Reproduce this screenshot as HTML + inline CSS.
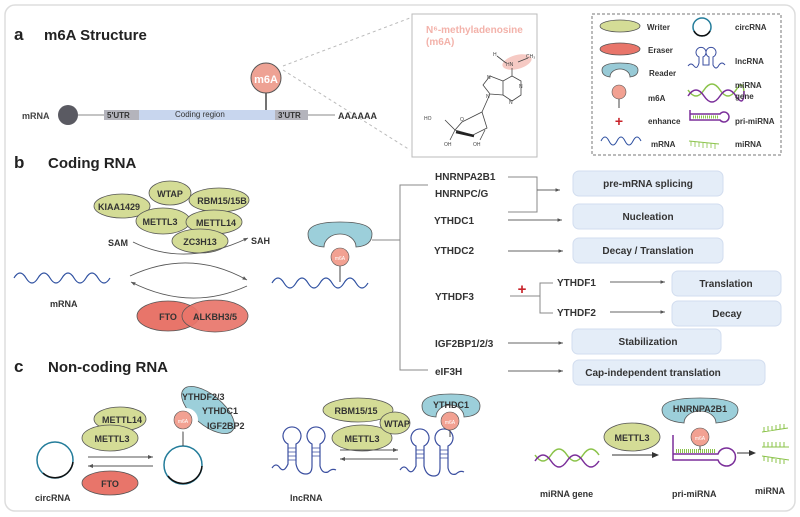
<!DOCTYPE html>
<html><head><meta charset="utf-8"><style>
body{margin:0;background:#fff}
svg{display:block;font-family:"Liberation Sans",sans-serif}
.b{font-weight:bold}
</style></head><body>
<svg width="800" height="517" viewBox="0 0 800 517" xmlns="http://www.w3.org/2000/svg">
<defs>
<marker id="ar" markerWidth="6" markerHeight="6" refX="5" refY="3" orient="auto"><path d="M0,1 L5,3 L0,5z" fill="#555"/></marker>
<marker id="ab" markerWidth="8" markerHeight="8" refX="6" refY="4" orient="auto"><path d="M0,1 L7,4 L0,7z" fill="#333"/></marker>
</defs>
<rect x="5" y="5" width="790" height="506" rx="10" fill="#fff" stroke="#ddd" stroke-width="1.5"/>

<!-- a -->
<text x="14" y="40" font-size="17" class="b" fill="#222">a</text>
<text x="44" y="40" font-size="15" class="b" fill="#222">m6A Structure</text>
<text x="22" y="119" font-size="9" class="b" fill="#444">mRNA</text>
<line x1="78" y1="115" x2="335" y2="115" stroke="#888" stroke-width="1"/>
<circle cx="68" cy="115" r="10" fill="#5a5a62"/>
<rect x="104" y="110" width="35" height="10" fill="#b4b4bc"/>
<rect x="139" y="110" width="136" height="10" fill="#c8d6ee"/>
<rect x="275" y="110" width="33" height="10" fill="#b4b4bc"/>
<text x="107" y="118" font-size="8" class="b" fill="#333">5'UTR</text>
<text x="175" y="117" font-size="8" fill="#333">Coding region</text>
<text x="278" y="118" font-size="8" class="b" fill="#333">3'UTR</text>
<text x="338" y="119" font-size="9" class="b" fill="#333">AAAAAA</text>
<line x1="266" y1="93" x2="266" y2="110" stroke="#444" stroke-width="1.5"/>
<circle cx="266" cy="78" r="15" fill="#eea294" stroke="#555" stroke-width="1"/>
<text x="266" y="83" font-size="11" class="b" fill="#fff" text-anchor="middle">m6A</text>
<line x1="283" y1="66" x2="410" y2="18" stroke="#bbb" stroke-dasharray="3,3"/>
<line x1="283" y1="70" x2="410" y2="150" stroke="#bbb" stroke-dasharray="3,3"/>
<rect x="412" y="14" width="125" height="143" fill="#fff" stroke="#bbb"/>
<text x="426" y="33" font-size="10" class="b" fill="#f3b2aa">N⁶-methyladenosine</text>
<text x="426" y="45" font-size="10" class="b" fill="#f3b2aa">(m6A)</text>
<ellipse cx="517" cy="62" rx="15" ry="7" fill="#f6cac4" transform="rotate(-15 517 62)"/>
<g stroke="#444" stroke-width="0.8" fill="none">
<line x1="497" y1="56" x2="506" y2="63"/><line x1="518" y1="62" x2="528" y2="58"/>
<polyline points="512,68 512,76 521,81 521,95 512,101 503,95 503,81 512,76"/>
<polyline points="503,81 490,76 483,85 490,94 503,95"/>
<line x1="490" y1="94" x2="482" y2="112"/>
<polygon points="462,122 482,112 487,128 473,135 455,130"/>
<line x1="455" y1="130" x2="445" y2="120"/><line x1="455" y1="130" x2="450" y2="140"/><line x1="485" y1="130" x2="480" y2="140"/>
</g>
<line x1="456" y1="132" x2="474" y2="136" stroke="#222" stroke-width="2.5"/>
<g font-size="5" fill="#444"><text x="493" y="56">H</text><text x="506" y="66">HN</text><text x="526" y="58">CH₃</text>
<text x="519" y="88">N</text><text x="509" y="104">N</text><text x="487" y="79">N</text><text x="486" y="98">N</text><text x="460" y="121">O</text>
<text x="424" y="120">HO</text><text x="444" y="146">OH</text><text x="473" y="146">OH</text></g>

<!-- legend -->
<rect x="592" y="14" width="189" height="141" fill="none" stroke="#777" stroke-dasharray="3,2"/>
<g font-size="8" class="b" fill="#333">
<ellipse cx="620" cy="26" rx="20" ry="6" fill="#d4dc96" stroke="#555" stroke-width="0.8"/><text x="647" y="30">Writer</text>
<ellipse cx="620" cy="49" rx="20" ry="6" fill="#e8756a" stroke="#555" stroke-width="0.8"/><text x="648" y="53">Eraser</text>
<path d="M602,70 Q602,63 620,63 Q638,63 638,70 Q638,76 630,77 A10,8 0 0 0 610,77 Q602,76 602,70Z" fill="#98cad6" stroke="#555" stroke-width="0.8"/><text x="649" y="76">Reader</text>
<circle cx="619" cy="92" r="7" fill="#f2a192" stroke="#555" stroke-width="0.6"/><line x1="619" y1="99" x2="619" y2="108" stroke="#444"/><text x="648" y="101">m6A</text>
<text x="619" y="126" font-size="14" fill="#c8232a" text-anchor="middle">+</text><text x="648" y="124">enhance</text>
<path d="M601,141 q4,-8 8,0 t8,0 t8,0 t8,0 t8,0" fill="none" stroke="#2d4fa0" stroke-width="1"/><text x="651" y="147">mRNA</text>
<circle cx="702" cy="27" r="9" fill="none" stroke="#237c9a" stroke-width="1.5"/><path d="M694,31 A9,9 0 0 0 710,31" fill="none" stroke="#111" stroke-width="1.5"/><text x="735" y="30">circRNA</text>
<path d="M688,66 q3,-4 6,0 q3,4 5,-3 l0,-6 a5,5 0 1 1 4,0 l0,8 l6,0 l0,-8 a5,5 0 1 1 4,0 l0,8 q3,6 6,0 q3,-4 6,0" fill="none" stroke="#3b4fa0" stroke-width="1"/><text x="735" y="64">lncRNA</text>
<path d="M688,90 q8,12 16,0 t16,0 t16,0 t8,5" fill="none" stroke="#8bc34a" stroke-width="1.5"/><path d="M688,96 q8,-12 16,0 t16,0 t16,0 t8,-5" fill="none" stroke="#7b2f9a" stroke-width="1.5"/><text x="735" y="88">miRNA</text><text x="735" y="99">gene</text>
<path d="M690,110 l0,10 l30,0 a5,5 0 1 0 0,-6 l-30,0" fill="none" stroke="#7b2f9a" stroke-width="1.5"/><line x1="693" y1="117" x2="718" y2="117" stroke="#8bc34a" stroke-dasharray="1,1" stroke-width="3"/><text x="735" y="124">pri-miRNA</text>
<path d="M689,141 l30,3" stroke="#8bc34a" stroke-width="1"/><path d="M691,141 l0,5 M695,142 l0,5 M699,142 l0,5 M703,143 l0,5 M707,143 l0,5 M711,143 l0,5 M715,144 l0,5" stroke="#8bc34a" stroke-width="0.8"/><text x="735" y="147">miRNA</text>
</g>

<!-- b -->
<text x="14" y="168" font-size="17" class="b" fill="#222">b</text>
<text x="48" y="168" font-size="15" class="b" fill="#222">Coding RNA</text>
<g stroke="#555" stroke-width="0.8" fill="#d4dc96">
<ellipse cx="170" cy="193" rx="21" ry="12"/>
<ellipse cx="122" cy="206" rx="28" ry="12"/>
<ellipse cx="219" cy="200" rx="30" ry="12"/>
<ellipse cx="163" cy="221" rx="27" ry="13"/>
<ellipse cx="214" cy="222" rx="28" ry="12"/>
<ellipse cx="200" cy="241" rx="28" ry="12"/>
</g>
<g font-size="9" class="b" fill="#333" text-anchor="middle">
<text x="170" y="197">WTAP</text><text x="119" y="210">KIAA1429</text><text x="222" y="204">RBM15/15B</text>
<text x="160" y="225">METTL3</text><text x="216" y="226">METTL14</text><text x="200" y="245">ZC3H13</text>
</g>
<text x="108" y="246" font-size="9" class="b" fill="#333">SAM</text>
<text x="251" y="244" font-size="9" class="b" fill="#333">SAH</text>
<g fill="none" stroke="#555" stroke-width="0.9">
<path d="M133,242 Q185,268 248,238" marker-end="url(#ar)"/>
<path d="M130,276 Q190,248 247,280" marker-end="url(#ar)"/>
<path d="M247,286 Q190,312 131,282" marker-end="url(#ar)"/>
</g>
<path d="M14,278 q6,-10 12,0 t12,0 t12,0 t12,0 t12,0 t12,0 t12,0 t12,0" fill="none" stroke="#2d4fa0" stroke-width="1.2"/>
<text x="50" y="307" font-size="9" class="b" fill="#333">mRNA</text>
<g stroke="#555" stroke-width="0.8" fill="#e8756a">
<ellipse cx="168" cy="316" rx="31" ry="15"/><ellipse cx="215" cy="316" rx="33" ry="16" fill-opacity="0.92"/>
</g>
<text x="168" y="320" font-size="9" class="b" fill="#333" text-anchor="middle">FTO</text>
<text x="215" y="320" font-size="9" class="b" fill="#333" text-anchor="middle">ALKBH3/5</text>
<path d="M272,283 q6,-10 12,0 t12,0 t12,0 t12,0 t12,0 t12,0 t12,0 t12,0" fill="none" stroke="#2d4fa0" stroke-width="1.2"/>
<line x1="340" y1="266" x2="340" y2="282" stroke="#444"/>
<path d="M308,234 Q308,222 340,222 Q372,222 372,234 Q372,246 356,247 A16,13 0 0 0 324,247 Q308,246 308,234Z" fill="#9ccfda" stroke="#555" stroke-width="0.8"/>
<circle cx="340" cy="257" r="9" fill="#f2a192" stroke="#555" stroke-width="0.6"/>
<text x="340" y="260" font-size="5" fill="#fff" text-anchor="middle">m6A</text>
<g stroke="#888" stroke-width="1" fill="none">
<polyline points="372,240 400,240"/>
<polyline points="428,185 400,185 400,370 428,370"/>
<polyline points="508,177 537,177 537,212 508,212"/>
</g>
<g stroke="#666" stroke-width="0.9" marker-end="url(#ar)">
<line x1="537" y1="190" x2="560" y2="190"/>
<line x1="508" y1="220" x2="562" y2="220"/>
<line x1="508" y1="251" x2="563" y2="251"/>
<line x1="610" y1="282" x2="665" y2="282"/>
<line x1="610" y1="312" x2="665" y2="312"/>
<line x1="508" y1="343" x2="563" y2="343"/>
<line x1="508" y1="371" x2="563" y2="371"/>
</g>
<polyline points="510,296 540,296" stroke="#888" fill="none"/>
<polyline points="553,283 540,283 540,313 553,313" stroke="#888" fill="none"/>
<text x="522" y="294" font-size="15" class="b" fill="#c8232a" text-anchor="middle">+</text>
<g font-size="10" class="b" fill="#333">
<text x="435" y="180">HNRNPA2B1</text><text x="435" y="197">HNRNPC/G</text><text x="434" y="224">YTHDC1</text>
<text x="434" y="254">YTHDC2</text><text x="435" y="300">YTHDF3</text><text x="557" y="286">YTHDF1</text><text x="557" y="316">YTHDF2</text>
<text x="435" y="347">IGF2BP1/2/3</text><text x="435" y="375">eIF3H</text>
</g>
<g fill="#e4edf8" stroke="#d2ddef">
<rect x="573" y="171" width="150" height="25" rx="6"/>
<rect x="573" y="204" width="150" height="25" rx="6"/>
<rect x="573" y="238" width="150" height="25" rx="6"/>
<rect x="672" y="271" width="109" height="25" rx="6"/>
<rect x="672" y="301" width="109" height="25" rx="6"/>
<rect x="572" y="329" width="149" height="25" rx="6"/>
<rect x="573" y="360" width="192" height="25" rx="6"/>
</g>
<g font-size="10" class="b" fill="#333" text-anchor="middle">
<text x="648" y="187">pre-mRNA splicing</text><text x="648" y="220">Nucleation</text><text x="648" y="254">Decay / Translation</text>
<text x="726" y="287">Translation</text><text x="727" y="317">Decay</text><text x="648" y="345">Stabilization</text><text x="653" y="376">Cap-independent translation</text>
</g>

<!-- c -->
<text x="14" y="372" font-size="17" class="b" fill="#222">c</text>
<text x="48" y="372" font-size="15" class="b" fill="#222">Non-coding RNA</text>
<g stroke="#555" stroke-width="0.8">
<ellipse cx="120" cy="419" rx="26" ry="12" fill="#d4dc96"/>
<ellipse cx="110" cy="438" rx="28" ry="13" fill="#d4dc96"/>
<ellipse cx="110" cy="483" rx="28" ry="12" fill="#e8756a"/>
</g>
<g font-size="9" class="b" fill="#333" text-anchor="middle"><text x="122" y="423">METTL14</text><text x="112" y="442">METTL3</text><text x="110" y="487">FTO</text></g>
<circle cx="55" cy="460" r="18" fill="none" stroke="#237c9a" stroke-width="1.5"/><path d="M43,473 A18,18 0 0 0 73,462" fill="none" stroke="#111" stroke-width="1.5"/>
<text x="35" y="501" font-size="9" class="b" fill="#333">circRNA</text>
<line x1="88" y1="457" x2="153" y2="457" stroke="#555" marker-end="url(#ar)"/>
<line x1="153" y1="466" x2="88" y2="466" stroke="#555" marker-end="url(#ar)"/>
<circle cx="183" cy="465" r="19" fill="none" stroke="#237c9a" stroke-width="1.5"/><path d="M168,476 A19,19 0 0 0 202,466" fill="none" stroke="#111" stroke-width="1.5"/>
<line x1="183" y1="429" x2="183" y2="446" stroke="#444"/>
<ellipse cx="208" cy="410" rx="32" ry="15" transform="rotate(40 208 410)" fill="#9ccfda" stroke="#555" stroke-width="0.8"/>
<circle cx="186" cy="420" r="12" fill="#fff"/>
<circle cx="183" cy="420" r="9" fill="#f2a192" stroke="#555" stroke-width="0.6"/><text x="183" y="423" font-size="5" fill="#fff" text-anchor="middle">m6A</text>
<g font-size="9" class="b" fill="#333"><text x="182" y="400">YTHDF2/3</text><text x="202" y="414">YTHDC1</text><text x="207" y="429">IGF2BP2</text></g>
<g fill="none" stroke="#3b4fa0" stroke-width="1.2">
<path d="M272,468 q4,-6 8,0 q4,5 8,-4 l0,-20 a9,9 0 1 1 8,0 l0,20 q2,10 10,10 q6,0 6,-8 l0,-22 a9,9 0 1 1 8,0 l0,22 q2,8 8,6 q4,-4 8,-2"/>
<path d="M400,470 q4,-6 8,0 q4,5 8,-4 l0,-20 a9,9 0 1 1 8,0 l0,20 q2,10 10,10 q6,0 6,-8 l0,-22 a9,9 0 1 1 8,0 l0,22 q2,8 8,6 q4,-4 8,-2"/>
</g>
<g stroke="#3b4fa0" stroke-width="0.8"><path d="M288,448h8M288,452h8M288,456h8M288,460h8M312,448h8M312,452h8M312,456h8M416,450h8M416,454h8M416,458h8M440,450h8M440,454h8M440,458h8"/></g>
<text x="290" y="501" font-size="9" class="b" fill="#333">lncRNA</text>
<g stroke="#555" stroke-width="0.8" fill="#d4dc96">
<ellipse cx="358" cy="410" rx="35" ry="12"/><ellipse cx="362" cy="438" rx="30" ry="13"/><ellipse cx="395" cy="423" rx="15" ry="11"/>
</g>
<g font-size="9" class="b" fill="#333" text-anchor="middle"><text x="356" y="414">RBM15/15</text><text x="362" y="442">METTL3</text><text x="397" y="427">WTAP</text></g>
<line x1="340" y1="450" x2="398" y2="450" stroke="#555" marker-end="url(#ar)"/>
<line x1="398" y1="459" x2="340" y2="459" stroke="#555" marker-end="url(#ar)"/>
<line x1="450" y1="428" x2="450" y2="437" stroke="#444"/>
<path d="M422,406 Q422,394 451,394 Q480,394 480,406 Q480,416 464,417 A14,12 0 0 0 436,417 Q422,416 422,406Z" fill="#9ccfda" stroke="#555" stroke-width="0.8"/>
<text x="451" y="408" font-size="9" class="b" fill="#333" text-anchor="middle">YTHDC1</text>
<circle cx="450" cy="421" r="9" fill="#f2a192" stroke="#555" stroke-width="0.6"/><text x="450" y="424" font-size="5" fill="#fff" text-anchor="middle">m6A</text>
<path d="M535,455 q8,12 16,0 t16,0 t16,0 t16,0" fill="none" stroke="#8bc34a" stroke-width="1.5"/>
<path d="M535,461 q8,-12 16,0 t16,0 t16,0 t16,0" fill="none" stroke="#7b2f9a" stroke-width="1.5"/>
<ellipse cx="632" cy="437" rx="28" ry="14" fill="#d4dc96" stroke="#555" stroke-width="0.8"/>
<text x="632" y="441" font-size="9" class="b" fill="#333" text-anchor="middle">METTL3</text>
<line x1="612" y1="455" x2="658" y2="455" stroke="#333" marker-end="url(#ab)"/>
<text x="540" y="497" font-size="9" class="b" fill="#333">miRNA gene</text>
<path d="M673,435 l0,25 l45,0 a9,9 0 1 0 0,-6 l-45,0" fill="none" stroke="#7b2f9a" stroke-width="1.5"/>
<line x1="676" y1="451" x2="716" y2="451" stroke="#8bc34a" stroke-dasharray="1,1" stroke-width="4"/>
<line x1="700" y1="441" x2="700" y2="450" stroke="#444"/>
<path d="M662,410 Q662,398 700,398 Q738,398 738,410 Q738,421 716,423 A16,12 0 0 0 684,423 Q662,421 662,410Z" fill="#9ccfda" stroke="#555" stroke-width="0.8"/>
<text x="700" y="412" font-size="9" class="b" fill="#333" text-anchor="middle">HNRNPA2B1</text>
<circle cx="700" cy="437" r="9" fill="#f2a192" stroke="#555" stroke-width="0.6"/><text x="700" y="440" font-size="5" fill="#fff" text-anchor="middle">m6A</text>
<line x1="737" y1="453" x2="755" y2="453" stroke="#333" marker-end="url(#ab)"/>
<text x="672" y="497" font-size="9" class="b" fill="#333">pri-miRNA</text>
<g stroke="#8bc34a" stroke-width="1" fill="none">
<path d="M762,432 l26,-4 M764,432v-5 M768,431v-5 M772,431v-5 M776,430v-5 M780,429v-5 M784,429v-5"/>
<path d="M762,447 l27,0 M764,447v-5 M768,447v-5 M772,447v-5 M776,447v-5 M780,447v-5 M784,447v-5"/>
<path d="M762,456 l27,4 M764,456v5 M768,457v5 M772,457v5 M776,458v5 M780,459v5 M784,459v5"/>
</g>
<text x="755" y="494" font-size="9" class="b" fill="#333">miRNA</text>
</svg>
</body></html>
